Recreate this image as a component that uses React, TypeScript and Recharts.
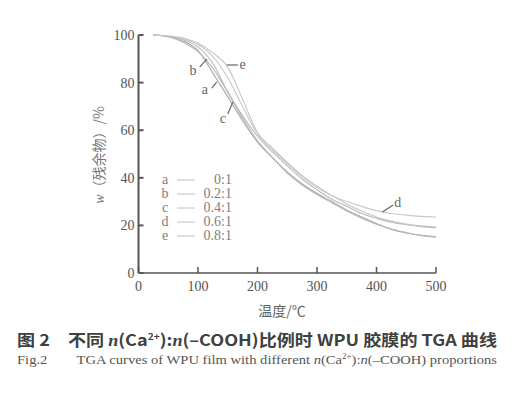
import React from "react";
import {
  LineChart,
  Line,
  XAxis,
  YAxis,
  Legend,
  ReferenceLine,
  ReferenceDot,
} from "recharts";

// temperature, °C
const temps = [25, 50, 75, 100, 125, 150, 175, 200, 225, 250, 275, 300, 325, 350, 375, 400, 425, 450, 475, 500];

// residue mass fraction, %
const seriesA = [100, 99.3, 97.5, 93.5, 84, 74, 64, 55, 48.5, 42.5, 37.5, 33.5, 30, 26.5, 23.5, 20.8, 18.3, 16.8, 15.8, 15.2];
const seriesB = [100, 99.3, 97, 93, 86, 76, 65, 55.5, 48.5, 42, 37, 33, 29.5, 26, 23, 20.5, 18.5, 17, 15.8, 15];
const seriesC = [100, 99.5, 98, 95, 88, 76, 66, 57.5, 51, 45, 39.5, 35, 31, 28, 25, 23, 21.3, 20.3, 19.5, 19];
const seriesD = [100, 99.6, 98.5, 96, 91, 82, 70, 58.5, 52, 46, 40.5, 36, 32.5, 30, 28, 26.2, 25, 24.3, 23.8, 23.5];
const seriesE = [100, 99.6, 98.7, 96.5, 92.5, 86.5, 73, 59, 52.5, 46.5, 41, 36.5, 32.5, 29, 26, 23.5, 21.8, 20.6, 19.8, 19.3];

const letters = ["a", "b", "c", "d", "e"];
const ratios = ["0:1", "0.2:1", "0.4:1", "0.6:1", "0.8:1"];
const xTicks = [0, 100, 200, 300, 400, 500];
const yTicks = [0, 20, 40, 60, 80, 100];

// curve labels: letter spot and leader line, in data units
const noteText: [number, number][] = [[111.6, 76.9], [91.4, 84.9], [141.8, 65.1], [435.6, 29.8], [175, 87.8]];
const noteLine: [number, number, number, number][] = [
  [123, 77.7, 131.7, 80.3],
  [103, 86.6, 115, 89.9],
  [150, 66.8, 158.6, 71.8],
  [410, 25.6, 428, 28.6],
  [148.5, 87.4, 167, 87.4],
];

const allSeries = [seriesA, seriesB, seriesC, seriesD, seriesE];
const data = temps.map((t, i) => {
  const row: Record<string, number> = { t };
  letters.forEach((k, j) => (row[k] = allSeries[j][i]));
  return row;
});

const curveColors = ["#ababab", "#b6b6b6", "#b8b8b8", "#c8c8c8", "#c6c6c6"];
const serif = "'Liberation Serif', 'DejaVu Serif', serif";
const cjk = "'Noto Sans CJK SC', sans-serif";

function LegendBox() {
  return (
    <svg width={90} height={75} style={{ fontFamily: serif, fontSize: 14, display: "block" }}>
      {letters.map((k, i) => (
        <g key={k} transform={`translate(0, ${8 + i * 14})`}>
          <text x={10} y={0} dy="0.32em" textAnchor="middle" fill="#808080">{k}</text>
          <line x1={22} x2={40} y1={0} y2={0} stroke="#c0c0c0" strokeWidth={1} />
          <text x={77} y={0} dy="0.32em" textAnchor="end" fill="#808080">{ratios[i]}</text>
        </g>
      ))}
    </svg>
  );
}

export default function App() {
  return (
    <div style={{ position: "absolute", left: 0, top: 0, width: 531, height: 398, background: "#fff" }}>
      <LineChart
        width={531}
        height={300}
        data={data}
        margin={{ top: 35, right: 95, left: 0, bottom: 0 }}
      >
        <XAxis
          dataKey="t"
          type="number"
          domain={[0, 500]}
          ticks={xTicks}
          height={27}
          tickSize={-6}
          tickMargin={14}
          stroke="#555"
          strokeWidth={1.5}
          tick={{ fill: "#555", fontSize: 14, fontFamily: serif }}
        />
        <YAxis
          type="number"
          domain={[0, 100]}
          ticks={yTicks}
          width={138.5}
          tickSize={-5}
          tickMargin={9}
          stroke="#555"
          strokeWidth={2}
          tick={{ fill: "#555", fontSize: 14, fontFamily: serif }}
        />
        <Legend
          layout="vertical"
          align="center"
          verticalAlign="middle"
          content={() => <LegendBox />}
          wrapperStyle={{ position: "absolute", left: 155, top: 172, width: 90, height: 75 }}
        />
        {letters.map((k, i) => (
          <Line
            key={k}
            dataKey={k}
            type="monotone"
            stroke={curveColors[i]}
            strokeWidth={1.1}
            dot={false}
            isAnimationActive={false}
          />
        ))}
        {noteLine.map((s, i) => (
          <ReferenceLine
            key={"l" + i}
            segment={[{ x: s[0], y: s[1] }, { x: s[2], y: s[3] }]}
            stroke="#666"
            strokeWidth={1.2}
            ifOverflow="visible"
          />
        ))}
        {noteText.map((p, i) => (
          <ReferenceDot
            key={"t" + i}
            x={p[0]}
            y={p[1]}
            r={0}
            ifOverflow="visible"
            shape={(props: any) => (
              <text
                x={props.cx}
                y={props.cy}
                dy="0.32em"
                textAnchor="middle"
                fill="#666"
                fontSize={14}
                fontFamily={serif}
              >
                {letters[i]}
              </text>
            )}
          />
        ))}
      </LineChart>
      <svg width={531} height={398} style={{ position: "absolute", left: 0, top: 0, pointerEvents: "none" }}>
        <g transform="translate(104, 155) rotate(-90)">
          <text x={0} y={0} textAnchor="middle" fill="#777" fontSize={14} fontFamily={cjk}>
            <tspan fontFamily={serif} fontStyle="italic">w</tspan>（残余物）/%
          </text>
        </g>
        <text x={282} y={316} textAnchor="middle" fill="#666" fontSize={14} fontFamily={cjk}>
          温度/℃
        </text>
        <text
          x={17}
          y={346}
          fill="#404040"
          fontSize={16}
          fontWeight="bold"
          fontFamily={cjk}
          textLength={480}
          lengthAdjust="spacingAndGlyphs"
        >
          图 2　不同 <tspan fontFamily={serif} fontStyle="italic">n</tspan>(Ca
          <tspan fontSize={9} dy={-6}>2+</tspan>
          <tspan dy={6}>):</tspan>
          <tspan fontFamily={serif} fontStyle="italic">n</tspan>(–COOH)比例时 WPU 胶膜的 TGA 曲线
        </text>
        <text
          x={17}
          y={364}
          fill="#555"
          fontSize={13}
          fontFamily={serif}
          textLength={480}
          lengthAdjust="spacingAndGlyphs"
        >
          Fig.2{"\u2003\u2003"}TGA curves of WPU film with different <tspan fontStyle="italic">n</tspan>(Ca
          <tspan fontSize={8} dy={-5}>2+</tspan>
          <tspan dy={5}>):</tspan>
          <tspan fontStyle="italic">n</tspan>(–COOH) proportions
        </text>
      </svg>
    </div>
  );
}
